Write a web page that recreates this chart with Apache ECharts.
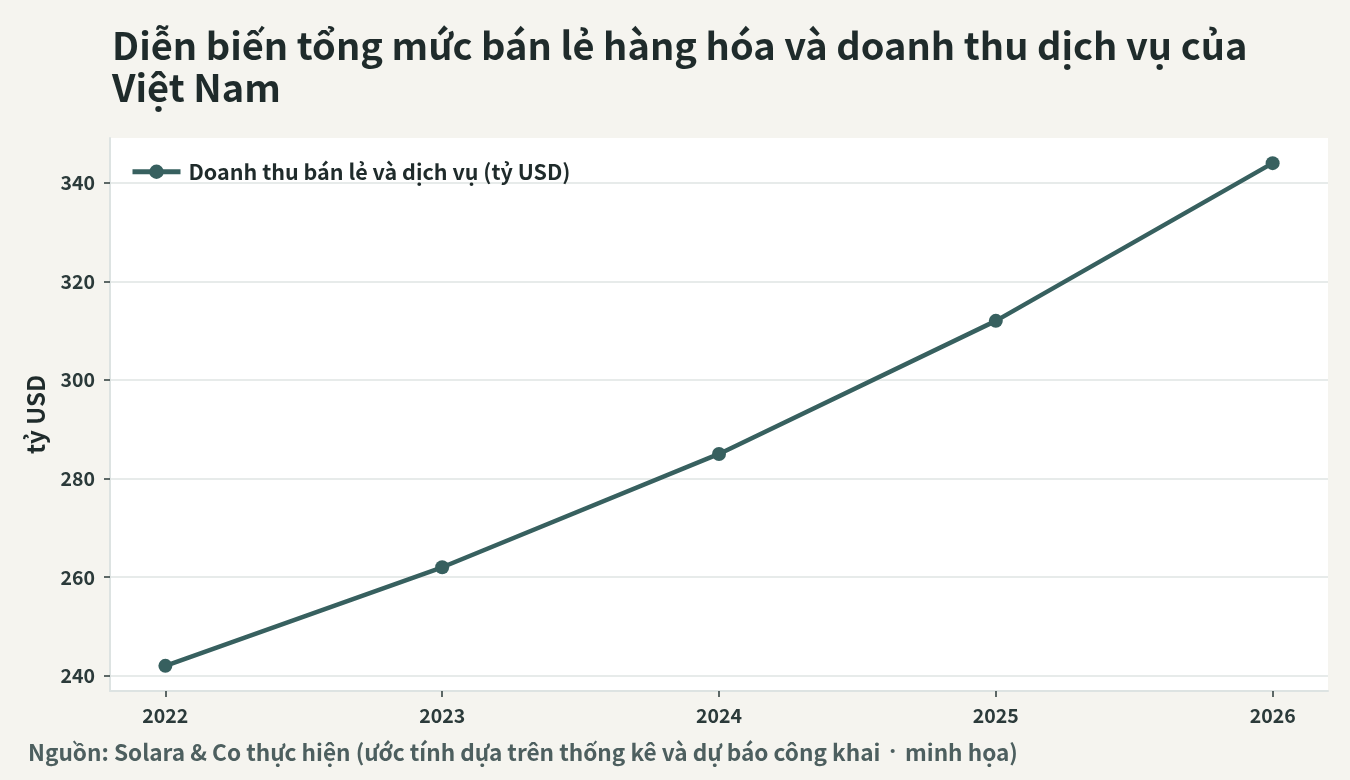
<!DOCTYPE html>
<html>
<head>
<meta charset="utf-8">
<script src="https://cdn.jsdelivr.net/npm/echarts@6/dist/echarts.min.js"></script>
<style>
  html, body { margin: 0; padding: 0; background: #f5f4ef; }
  #chart { width: 1350px; height: 780px; }
</style>
</head>
<body>
<div id="chart"></div>
<script>
var years = [2022, 2023, 2024, 2025, 2026]
var revenue = [242, 262, 285, 312, 344]
var yTicks = [240, 260, 280, 300, 320, 340]
var seriesName = 'Doanh thu bán lẻ và dịch vụ (tỷ USD)'

var font = '"Noto Sans CJK SC", "Noto Sans", sans-serif'
var lineColor = '#37605f'

var points = []
for (var i = 0; i < years.length; i++) {
    points.push([years[i], revenue[i]])
}

var myChart = echarts.init(document.getElementById('chart'))

var option = {
    backgroundColor: '#f5f4ef',
    textStyle: { fontFamily: font },
    title: {
        text: 'Diễn biến tổng mức bán lẻ hàng hóa và doanh thu dịch vụ của\nViệt Nam',
        left: 107,
        top: 20,
        textStyle: {
            fontFamily: font,
            fontSize: 38,
            fontWeight: 'bold',
            color: '#1f2b2b',
            lineHeight: 42
        }
    },
    legend: {
        data: [seriesName],
        left: 125,
        top: 156,
        itemWidth: 48,
        itemHeight: 18,
        itemGap: 10,
        lineStyle: { width: 5 },
        textStyle: { fontFamily: font, fontSize: 21.5, fontWeight: 'bold', color: '#1f2b2b', padding: [0, 0, 0, 3] }
    },
    graphic: [{
        type: 'text',
        left: 28,
        top: 741,
        style: {
            text: '{a|Nguồn: Solara & Co thực hiện (ước tính dựa trên thống kê và dự báo công khai }{d|·}{a| minh họa)}',
            rich: {
                a: { fontFamily: font, fontSize: 22.6, fontWeight: 'bold', fill: '#4d5f5f' },
                d: { fontFamily: '"Noto Sans", sans-serif', fontSize: 22.6, fontWeight: 'bold', fill: '#4d5f5f', padding: [0, 4] }
            }
        }
    }],
    grid: {
        left: 110,
        right: 22,
        top: 138,
        bottom: 89,
        show: true,
        backgroundColor: '#ffffff',
        borderWidth: 0,
        outerBoundsMode: 'none'
    },
    xAxis: {
        type: 'value',
        min: 2021.8,
        max: 2026.2,
        axisLine: { show: true, onZero: false, lineStyle: { color: '#dde3e2', width: 2 } },
        axisTick: { show: true, length: 6, customValues: years, lineStyle: { color: '#2b3a3a', width: 1.5 } },
        axisLabel: {
            customValues: years,
            margin: 15,
            fontFamily: font, fontSize: 19.5, fontWeight: 'bold', color: '#2b3a3a',
            formatter: function (v) { return String(v) }
        },
        splitLine: { show: false }
    },
    yAxis: {
        type: 'value',
        min: 236.9,
        max: 349.1,
        name: 'tỷ USD',
        nameLocation: 'middle',
        nameGap: 62,
        nameTextStyle: { fontFamily: font, fontSize: 24, fontWeight: 'bold', color: '#1f2b2b' },
        axisLine: { show: true, lineStyle: { color: '#dde3e2', width: 2 } },
        axisTick: { show: true, length: 6, customValues: yTicks, lineStyle: { color: '#2b3a3a', width: 1.5 } },
        axisLabel: {
            customValues: yTicks,
            margin: 15,
            fontFamily: font, fontSize: 19.5, fontWeight: 'bold', color: '#2b3a3a'
        },
        splitLine: { show: true, lineStyle: { color: '#dfe4e3', width: 1.5 } }
    },
    series: [{
        name: seriesName,
        type: 'line',
        data: points,
        symbol: 'circle',
        symbolSize: 14,
        lineStyle: { color: lineColor, width: 4.5 },
        itemStyle: { color: lineColor },
        animation: false
    }]
}

myChart.setOption(option)
</script>
</body>
</html>
